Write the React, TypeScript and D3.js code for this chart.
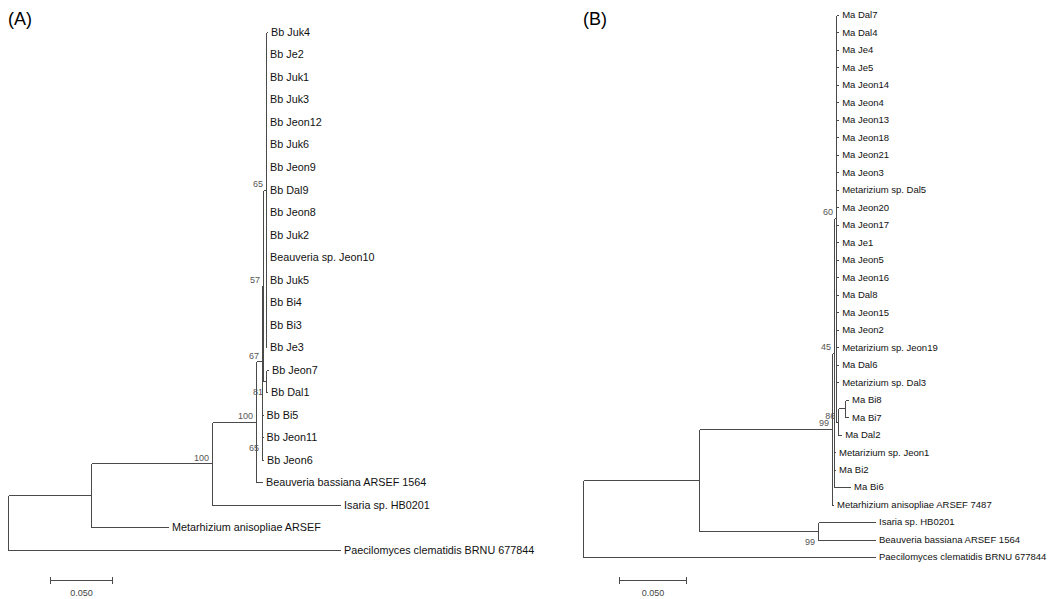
import * as d3 from "d3";

type Edge = [string, string | null, number];

// tree (A): node id, parent id, branch length (substitutions/site)
const treeAEdges: Edge[] = [
  ["A0", null, 0],
  ["A1", "A0", 0.0659],
  ["A2", "A1", 0.096],
  ["A3", "A2", 0.0349],
  ["A67", "A3", 0.0048],
  ["A57", "A67", 0.0008],
  ["A65", "A57", 0.0024],
  ["Bb Juk4", "A65", 0.0008],
  ["Bb Je2", "A65", 0],
  ["Bb Juk1", "A65", 0],
  ["Bb Juk3", "A65", 0],
  ["Bb Jeon12", "A65", 0],
  ["Bb Juk6", "A65", 0],
  ["Bb Jeon9", "A65", 0],
  ["Bb Dal9", "A65", 0],
  ["Bb Jeon8", "A65", 0],
  ["Bb Juk2", "A65", 0],
  ["Beauveria sp. Jeon10", "A65", 0],
  ["Bb Juk5", "A65", 0],
  ["Bb Bi4", "A65", 0],
  ["Bb Bi3", "A65", 0],
  ["Bb Je3", "A65", 0],
  ["A81", "A57", 0.0024],
  ["Bb Jeon7", "A81", 0.0016],
  ["Bb Dal1", "A81", 0.0008],
  ["A65b", "A67", 0],
  ["Bb Bi5", "A65b", 0.0004],
  ["Bb Jeon11", "A65b", 0.0004],
  ["Bb Jeon6", "A65b", 0.0008],
  ["Beauveria bassiana ARSEF 1564", "A3", 0.0048],
  ["Isaria sp. HB0201", "A2", 0.1016],
  ["Metarhizium anisopliae ARSEF", "A1", 0.0611],
  ["Paecilomyces clematidis BRNU 677844", "A0", 0.2635],
];

const treeASupport: [string, number][] = [
  ["A2", 100],
  ["A3", 100],
  ["A67", 67],
  ["A57", 57],
  ["A65", 65],
  ["A81", 81],
  ["A65b", 65],
];

// tree (B)
const treeBEdges: Edge[] = [
  ["B0", null, 0],
  ["B1", "B0", 0.0853],
  ["B99", "B1", 0.0978],
  ["B45", "B99", 0.0015],
  ["B60", "B45", 0.0015],
  ["Ma Dal7", "B60", 0.0015],
  ["Ma Dal4", "B60", 0.0015],
  ["Ma Je4", "B60", 0.0015],
  ["Ma Je5", "B60", 0.0015],
  ["Ma Jeon14", "B60", 0.0015],
  ["Ma Jeon4", "B60", 0.0015],
  ["Ma Jeon13", "B60", 0.0015],
  ["Ma Jeon18", "B60", 0.0015],
  ["Ma Jeon21", "B60", 0.0015],
  ["Ma Jeon3", "B60", 0.0015],
  ["Metarizium sp. Dal5", "B60", 0.0015],
  ["Ma Jeon20", "B60", 0.0015],
  ["Ma Jeon17", "B60", 0.0015],
  ["Ma Je1", "B60", 0.0015],
  ["Ma Jeon5", "B60", 0.0015],
  ["Ma Jeon16", "B60", 0.0015],
  ["Ma Dal8", "B60", 0.0015],
  ["Ma Jeon15", "B60", 0.0015],
  ["Ma Jeon2", "B60", 0.0015],
  ["Metarizium sp. Jeon19", "B60", 0.0015],
  ["Ma Dal6", "B60", 0.0015],
  ["Metarizium sp. Dal3", "B60", 0.0015],
  ["B86", "B60", 0.0015],
  ["B86a", "B86", 0.0051],
  ["Ma Bi8", "B86a", 0.0022],
  ["Ma Bi7", "B86a", 0.0022],
  ["Ma Dal2", "B86", 0.0022],
  ["Metarizium sp. Jeon1", "B45", 0.0007],
  ["Ma Bi2", "B45", 0.0007],
  ["Ma Bi6", "B45", 0.0118],
  ["Metarhizium anisopliae ARSEF 7487", "B99", 0.0007],
  ["B99b", "B1", 0.0875],
  ["Isaria sp. HB0201", "B99b", 0.0419],
  ["Beauveria bassiana ARSEF 1564", "B99b", 0.0419],
  ["Paecilomyces clematidis BRNU 677844", "B0", 0.2147],
];

const treeBSupport: [string, number][] = [
  ["B99", 99],
  ["B45", 45],
  ["B60", 60],
  ["B86", 86],
  ["B99b", 99],
];

const scaleBarValue = 0.05;
const scaleBarLabel = "0.050";

const FONT = "'Liberation Sans', Arial, Helvetica, sans-serif";
const LINE = "#4a4a4a";

type TreeProps = {
  edges: Edge[];
  support: [string, number][];
  below: string[];
  title: string;
  titleX: number;
  xRange: [number, number];
  yRange: [number, number];
  barX: number;
  fontSize: number;
};

function Tree({ edges, support, below, title, titleX, xRange, yRange, barX, fontSize }: TreeProps) {
  const root = d3
    .stratify<Edge>()
    .id((d) => d[0])
    .parentId((d) => d[1])(edges);

  // cumulative branch length from the root
  const len = new Map<any, number>();
  root.eachBefore((n: any) => {
    len.set(n, n.parent ? len.get(n.parent)! + n.data[2] : 0);
  });
  const maxLen = d3.max(root.leaves(), (l) => len.get(l)!)!;

  const x = d3.scaleLinear().domain([0, maxLen]).range(xRange);
  const leaves = root.leaves();
  const y = d3.scaleLinear().domain([0, leaves.length - 1]).range(yRange);

  const ypos = new Map<any, number>();
  leaves.forEach((l, i) => ypos.set(l, y(i)));
  root.eachAfter((n: any) => {
    if (n.children) {
      const c = n.children;
      ypos.set(n, (ypos.get(c[0])! + ypos.get(c[c.length - 1])!) / 2);
    }
  });

  const nodes = root.descendants();
  let d = "";
  nodes.forEach((n: any) => {
    const nx = Math.round(x(len.get(n)!)) + 0.5;
    const ny = Math.round(ypos.get(n)!) + 0.5;
    if (n.parent) {
      const px = Math.round(x(len.get(n.parent)!)) + 0.5;
      d += `M${px},${ny}H${nx}`;
    }
    if (n.children) {
      const c = n.children;
      d += `M${nx},${Math.round(ypos.get(c[0])!) + 0.5}V${Math.round(ypos.get(c[c.length - 1])!) + 0.5}`;
    }
  });

  const byId = new Map(nodes.map((n) => [n.id, n]));
  const barLen = x(scaleBarValue) - x(0);
  const barY = 580.5;

  return (
    <g fontFamily={FONT}>
      <text x={titleX} y={25} fontSize={18} fill="#000">
        {title}
      </text>
      <path d={d} fill="none" stroke={LINE} strokeWidth={1} shapeRendering="crispEdges" />
      {leaves.map((l) => (
        <text
          key={l.id}
          x={x(len.get(l)!) + 4}
          y={ypos.get(l)!}
          dy="0.36em"
          fontSize={fontSize}
          fill="#111"
        >
          {l.id}
        </text>
      ))}
      {support.map(([id, v]) => {
        const n = byId.get(id)!;
        const isBelow = below.includes(id);
        return (
          <text
            key={id}
            x={x(len.get(n)!) - 3}
            y={ypos.get(n)! + (isBelow ? 10.5 : -6)}
            dy="0.36em"
            textAnchor="end"
            fontSize={9}
            fill="#555"
          >
            {v}
          </text>
        );
      })}
      <path
        d={`M${barX},${barY}H${barX + barLen}M${barX + 0.5},${barY - 3.5}V${barY + 3.5}M${barX + barLen - 0.5},${barY - 3.5}V${barY + 3.5}`}
        stroke={LINE}
        strokeWidth={1}
        fill="none"
        shapeRendering="crispEdges"
      />
      <text x={barX + barLen / 2} y={barY + 12} dy="0.36em" textAnchor="middle" fontSize={9} fill="#444">
        {scaleBarLabel}
      </text>
    </g>
  );
}

export default function App() {
  return (
    <svg
      width={1053}
      height={599}
      style={{ position: "absolute", left: 0, top: 0, background: "#fff" }}
    >
      <rect width={1053} height={599} fill="#fff" />
      <Tree
        edges={treeAEdges}
        support={treeASupport}
        below={["A81", "A65b"]}
        title="(A)"
        titleX={8}
        xRange={[8, 340]}
        yRange={[32, 550]}
        barX={50}
        fontSize={10.8}
      />
      <Tree
        edges={treeBEdges}
        support={treeBSupport}
        below={["B99b"]}
        title="(B)"
        titleX={583}
        xRange={[583, 875]}
        yRange={[15, 557]}
        barX={619}
        fontSize={9.5}
      />
    </svg>
  );
}
